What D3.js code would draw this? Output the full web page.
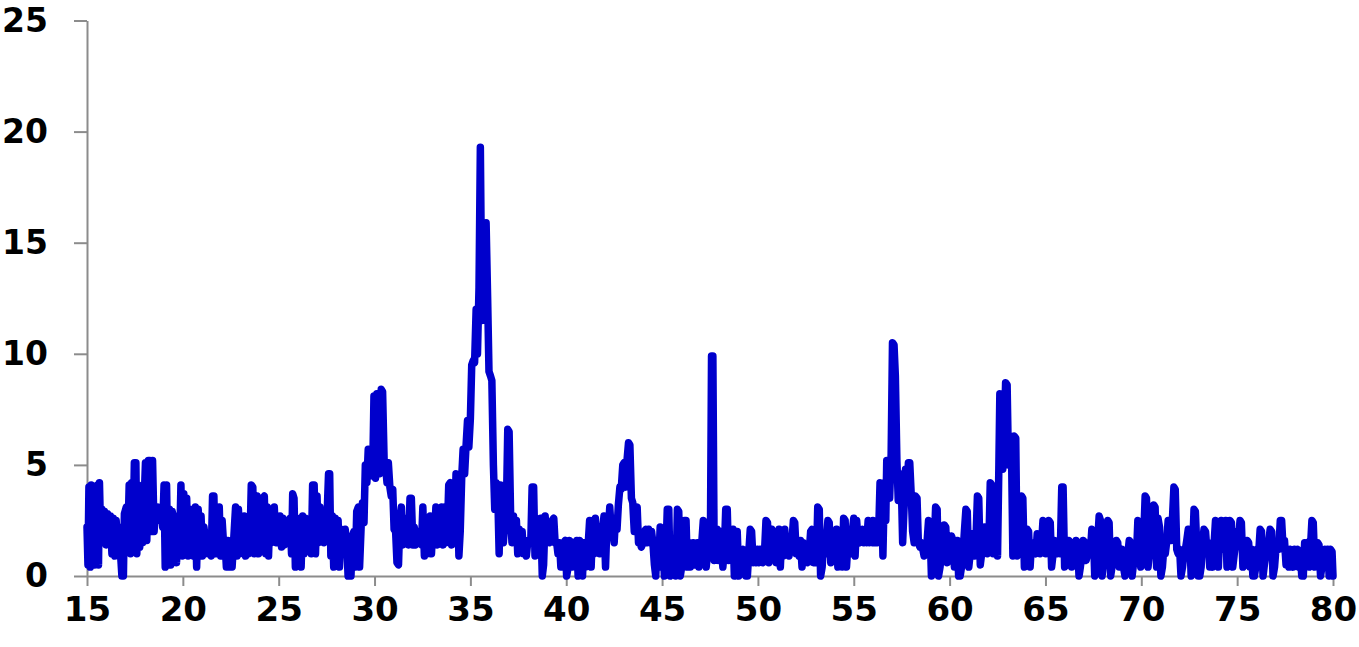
<!DOCTYPE html>
<html><head><meta charset="utf-8">
<script src="https://cdn.jsdelivr.net/npm/d3@7"></script>
<style>body{margin:0;background:#fff}svg{display:block}</style>
</head><body><svg id="c" width="1359" height="647"></svg>
<script>
const xTicks = [15,20,25,30,35,40,45,50,55,60,65,70,75,80];
const yTicks = [0,5,10,15,20,25];

// [2theta, intensity], region by region
const seg15_22 = [[15.00,2.2],[15.05,0.5],[15.10,4.0],[15.17,0.4],[15.22,4.1],[15.28,0.5],[15.33,3.9],[15.40,0.5],[15.47,1.2],[15.55,4.1],[15.60,0.5],[15.65,4.2],[15.72,1.6],[15.78,3.0],[15.85,1.5],[15.92,2.9],[16.00,1.4],[16.07,2.8],[16.15,1.8],[16.22,2.7],[16.30,1.0],[16.37,2.6],[16.45,0.9],[16.52,2.5],[16.60,1.5],[16.68,2.2],[16.75,1.0],[16.82,0.0],[16.90,0.0],[16.95,2.8],[17.05,3.1],[17.12,1.2],[17.20,4.1],[17.27,1.0],[17.33,4.2],[17.40,1.5],[17.47,5.1],[17.55,5.1],[17.60,1.0],[17.67,4.1],[17.75,1.3],[17.82,4.0],[17.90,1.5],[17.97,3.1],[18.05,5.1],[18.12,1.6],[18.20,5.2],[18.28,5.2],[18.35,2.0],[18.42,5.2],[18.50,2.0],[18.57,3.0],[18.65,2.5],[18.72,3.1],[18.80,2.6],[18.87,3.0],[18.95,2.2],[19.02,4.1],[19.08,0.4],[19.15,4.1],[19.22,0.5],[19.30,3.0],[19.37,0.5],[19.45,2.9],[19.52,1.0],[19.60,2.7],[19.67,0.6],[19.75,2.5],[19.82,1.0],[19.90,4.1],[19.97,0.9],[20.05,3.7],[20.12,1.5],[20.20,3.5],[20.27,0.9],[20.35,3.0],[20.42,1.8],[20.50,2.6],[20.57,0.9],[20.65,3.1],[20.72,0.4],[20.80,3.0],[20.88,1.5],[20.95,2.7],[21.02,0.9],[21.10,2.2],[21.18,1.6],[21.25,1.5],[21.32,1.0],[21.40,1.6],[21.48,0.9],[21.55,3.6],[21.62,3.6],[21.68,1.0],[21.75,3.1],[21.82,1.5],[21.90,3.1],[21.97,0.9],[22.05,2.5],[22.12,1.5],[22.20,1.6],[22.27,0.4],[22.35,1.6],[22.42,0.4]];

const seg22_31 = [[22.50,1.5],[22.57,0.4],[22.65,1.6],[22.75,3.1],[22.82,0.9],[22.90,3.0],[22.97,1.0],[23.05,2.0],[23.12,1.4],[23.20,2.7],[23.27,0.9],[23.35,1.5],[23.42,1.0],[23.50,1.5],[23.57,4.1],[23.65,4.0],[23.72,1.0],[23.80,2.5],[23.87,3.6],[23.95,1.0],[24.02,2.0],[24.10,1.5],[24.17,3.5],[24.25,3.6],[24.32,1.0],[24.40,3.1],[24.47,0.9],[24.55,3.0],[24.62,1.5],[24.70,1.6],[24.77,3.1],[24.85,1.5],[24.92,2.5],[25.00,1.5],[25.07,2.7],[25.15,1.3],[25.22,2.6],[25.30,1.4],[25.37,2.5],[25.45,1.6],[25.52,1.5],[25.60,2.6],[25.67,1.0],[25.73,3.7],[25.80,3.5],[25.87,0.4],[25.95,2.6],[26.02,1.5],[26.10,2.5],[26.17,0.4],[26.25,2.7],[26.32,1.0],[26.40,2.6],[26.47,1.5],[26.55,1.6],[26.62,2.5],[26.70,1.0],[26.77,4.1],[26.85,4.1],[26.92,1.0],[27.00,3.6],[27.07,1.5],[27.15,3.1],[27.22,1.6],[27.30,2.5],[27.37,1.5],[27.45,1.6],[27.52,2.6],[27.60,4.6],[27.66,4.6],[27.72,0.9],[27.80,2.7],[27.87,0.4],[27.95,2.6],[28.02,1.5],[28.10,2.5],[28.17,0.4],[28.25,2.1],[28.32,1.4],[28.40,1.5],[28.47,2.1],[28.55,1.5],[28.62,0.0],[28.70,0.4],[28.77,0.0],[28.85,1.8],[28.92,2.0],[29.00,0.4],[29.07,2.9],[29.15,3.1],[29.22,0.4],[29.30,2.2],[29.37,3.3],[29.45,2.4],[29.52,5.0],[29.60,4.2],[29.67,5.7],[29.75,4.8],[29.82,5.6],[29.90,4.5],[29.97,8.1],[30.05,4.4],[30.12,8.2],[30.20,5.0],[30.27,4.6],[30.35,8.4],[30.42,8.3],[30.50,5.2],[30.57,5.0],[30.65,4.2],[30.72,5.1],[30.80,4.0],[30.87,3.6],[30.95,3.9],[31.02,2.1]];

const seg31_41 = [[31.10,2.0],[31.17,0.6],[31.25,0.5],[31.32,2.5],[31.40,3.1],[31.47,1.4],[31.55,2.6],[31.62,1.5],[31.70,2.5],[31.77,1.4],[31.85,3.5],[31.92,3.5],[32.00,1.4],[32.07,2.2],[32.15,1.4],[32.22,1.5],[32.30,2.0],[32.37,1.5],[32.45,1.4],[32.52,3.1],[32.60,0.9],[32.67,2.6],[32.75,1.0],[32.82,1.5],[32.90,2.7],[32.97,1.0],[33.05,2.4],[33.12,1.4],[33.20,3.1],[33.27,1.4],[33.35,3.0],[33.42,1.5],[33.50,3.1],[33.57,1.4],[33.65,3.1],[33.72,1.5],[33.80,2.0],[33.87,4.1],[33.95,4.2],[34.02,1.4],[34.10,3.0],[34.17,1.5],[34.25,4.6],[34.32,4.5],[34.40,0.9],[34.47,2.0],[34.55,4.5],[34.62,5.7],[34.70,4.6],[34.77,5.8],[34.85,7.0],[34.92,5.8],[35.00,7.1],[35.07,9.5],[35.15,9.7],[35.22,9.6],[35.30,12.0],[35.37,10.0],[35.45,13.0],[35.52,19.3],[35.60,11.5],[35.67,12.0],[35.75,14.0],[35.82,15.9],[35.90,12.5],[35.97,9.2],[36.05,9.0],[36.12,8.8],[36.20,5.0],[36.27,3.0],[36.35,4.2],[36.42,4.0],[36.50,1.0],[36.57,4.1],[36.65,3.5],[36.72,1.5],[36.80,2.5],[36.87,2.7],[36.95,6.6],[37.02,6.5],[37.10,2.7],[37.17,1.5],[37.25,2.7],[37.32,1.5],[37.40,2.5],[37.47,1.0],[37.55,2.1],[37.62,1.5],[37.70,2.0],[37.77,1.0],[37.85,1.5],[37.92,0.9],[38.00,1.6],[38.07,1.5],[38.15,1.5],[38.22,4.0],[38.30,4.0],[38.37,0.9],[38.45,1.5],[38.52,1.6],[38.60,2.0],[38.67,2.6],[38.75,0.0],[38.82,0.5],[38.90,2.7],[38.97,1.5],[39.05,1.6],[39.12,1.5],[39.20,1.7],[39.27,2.5],[39.35,2.6],[39.42,1.5],[39.50,1.5],[39.57,1.0],[39.65,1.5],[39.72,0.4],[39.80,0.5],[39.87,1.5],[39.95,1.6],[40.02,0.0],[40.10,0.4],[40.17,1.6],[40.25,1.5],[40.32,0.4],[40.40,1.5],[40.47,0.5],[40.55,1.6],[40.62,0.0],[40.70,1.6],[40.77,1.5],[40.85,0.0],[40.92,1.5]];

const seg41_48 = [[41.00,0.4],[41.07,1.0],[41.15,1.5],[41.22,2.5],[41.30,0.4],[41.37,2.1],[41.45,1.0],[41.52,2.6],[41.60,1.5],[41.67,2.1],[41.75,1.0],[41.82,2.0],[41.90,2.1],[41.97,2.7],[42.05,0.4],[42.12,2.2],[42.20,2.0],[42.27,3.1],[42.35,2.0],[42.42,2.1],[42.50,1.5],[42.57,2.6],[42.65,2.1],[42.72,3.2],[42.80,4.0],[42.87,3.9],[42.95,5.0],[43.02,5.1],[43.10,4.0],[43.17,5.2],[43.25,6.0],[43.32,5.9],[43.40,3.5],[43.47,3.3],[43.55,2.0],[43.62,3.0],[43.70,3.1],[43.77,1.5],[43.85,1.5],[43.92,1.3],[44.00,1.5],[44.07,2.0],[44.15,2.1],[44.22,1.5],[44.30,2.1],[44.37,1.5],[44.45,2.0],[44.52,1.5],[44.60,0.5],[44.67,0.0],[44.75,1.5],[44.82,0.4],[44.90,2.2],[44.97,0.4],[45.05,1.5],[45.12,0.0],[45.20,1.0],[45.27,3.0],[45.35,3.0],[45.42,0.0],[45.50,0.4],[45.57,0.4],[45.65,1.0],[45.72,0.0],[45.80,3.0],[45.87,2.9],[45.95,0.0],[46.02,0.4],[46.10,1.0],[46.17,2.5],[46.25,2.5],[46.32,0.4],[46.40,1.5],[46.47,0.4],[46.55,1.0],[46.62,1.5],[46.70,0.5],[46.77,1.0],[46.85,1.5],[46.92,0.4],[47.00,1.0],[47.07,1.5],[47.15,2.5],[47.22,2.4],[47.30,0.4],[47.37,1.0],[47.45,1.0],[47.52,1.5],[47.58,9.9],[47.65,9.9],[47.72,0.7],[47.80,1.0],[47.87,2.1],[47.95,0.7]];

const seg48_56 = [[48.02,1.5],[48.10,2.0],[48.17,0.4],[48.25,1.2],[48.32,3.0],[48.40,3.0],[48.47,0.7],[48.55,2.1],[48.62,1.5],[48.70,2.1],[48.77,0.0],[48.85,0.4],[48.92,2.0],[49.00,0.0],[49.07,1.2],[49.15,1.0],[49.22,1.2],[49.30,0.4],[49.37,0.0],[49.45,0.0],[49.52,1.0],[49.60,2.1],[49.67,2.0],[49.75,0.6],[49.82,1.2],[49.90,0.6],[49.97,1.2],[50.05,0.6],[50.12,1.2],[50.20,1.0],[50.27,0.6],[50.35,1.2],[50.42,2.5],[50.50,2.4],[50.57,0.6],[50.65,1.5],[50.72,2.1],[50.80,0.9],[50.87,2.0],[50.95,0.6],[51.02,1.5],[51.10,2.1],[51.17,0.4],[51.25,2.0],[51.32,0.9],[51.40,2.1],[51.47,1.0],[51.55,1.6],[51.62,0.9],[51.70,1.5],[51.77,1.5],[51.85,2.5],[51.92,2.4],[52.00,1.0],[52.07,1.5],[52.15,0.9],[52.22,1.6],[52.30,0.4],[52.37,1.5],[52.45,1.0],[52.52,1.2],[52.60,0.6],[52.67,1.0],[52.75,2.0],[52.82,2.1],[52.90,0.6],[52.97,1.0],[53.05,0.6],[53.12,3.1],[53.20,3.0],[53.27,0.0],[53.35,0.4],[53.42,1.5],[53.50,1.0],[53.57,1.6],[53.65,2.5],[53.72,2.4],[53.80,0.6],[53.87,1.5],[53.95,1.0],[54.02,1.5],[54.10,2.1],[54.17,0.4],[54.25,1.5],[54.32,2.0],[54.40,0.4],[54.47,2.6],[54.55,2.5],[54.62,0.4],[54.70,1.5],[54.77,1.5],[54.85,1.0],[54.92,2.0],[55.00,2.6],[55.07,0.9],[55.15,2.5],[55.22,1.6],[55.30,1.5],[55.37,2.0],[55.45,2.1],[55.52,1.5],[55.60,2.0],[55.67,1.5],[55.75,2.5],[55.82,1.5],[55.90,1.6],[55.97,1.5]];

const seg56_64 = [[56.00,2.5],[56.07,1.5],[56.15,2.4],[56.22,1.5],[56.30,2.0],[56.37,4.2],[56.45,4.1],[56.52,0.9],[56.60,4.2],[56.67,2.5],[56.72,5.2],[56.80,5.0],[56.87,3.5],[56.95,5.5],[57.02,10.5],[57.10,10.4],[57.17,9.0],[57.25,5.2],[57.32,3.4],[57.40,4.6],[57.47,4.5],[57.55,1.5],[57.62,3.0],[57.70,4.8],[57.77,3.6],[57.85,5.1],[57.92,5.1],[58.00,3.6],[58.07,2.0],[58.15,1.5],[58.22,3.6],[58.30,3.5],[58.37,1.5],[58.45,1.3],[58.52,1.5],[58.60,1.2],[58.67,0.9],[58.75,1.2],[58.82,1.5],[58.90,2.5],[58.97,2.4],[59.05,0.0],[59.12,0.5],[59.20,1.5],[59.27,3.1],[59.35,3.0],[59.42,0.0],[59.50,0.4],[59.57,1.0],[59.65,1.5],[59.72,2.3],[59.80,2.2],[59.87,0.6],[59.95,1.3],[60.02,1.0],[60.10,1.8],[60.17,1.6],[60.25,0.4],[60.32,1.0],[60.40,1.6],[60.47,0.0],[60.55,0.0],[60.62,0.4],[60.70,1.0],[60.77,2.0],[60.85,3.0],[60.92,2.9],[61.00,0.4],[61.07,1.0],[61.15,1.9],[61.22,1.5],[61.30,0.9],[61.37,1.5],[61.45,3.6],[61.52,3.5],[61.60,0.5],[61.67,1.0],[61.75,1.2],[61.82,2.2],[61.90,2.1],[61.97,1.0],[62.05,1.5],[62.12,4.2],[62.20,4.1],[62.27,1.0],[62.35,1.5],[62.42,2.5],[62.50,0.9],[62.57,5.0],[62.62,8.2],[62.70,8.1],[62.77,4.8],[62.85,6.0],[62.92,8.7],[63.00,8.6],[63.07,5.0],[63.15,6.3],[63.22,6.2],[63.30,0.9],[63.37,6.3],[63.45,6.2],[63.52,0.9],[63.60,2.0],[63.67,2.5],[63.75,3.6],[63.82,3.5],[63.90,0.4],[63.97,1.5]];

const seg64_72 = [[64.05,2.1],[64.12,2.0],[64.20,0.4],[64.27,1.5],[64.35,1.0],[64.42,1.2],[64.50,1.0],[64.57,1.9],[64.65,1.8],[64.72,1.0],[64.80,1.5],[64.87,2.5],[64.95,2.4],[65.02,1.0],[65.10,1.5],[65.17,2.5],[65.25,2.4],[65.32,0.4],[65.40,1.0],[65.47,1.6],[65.55,1.5],[65.62,1.0],[65.70,1.2],[65.77,1.0],[65.85,4.0],[65.92,4.0],[66.00,0.4],[66.07,0.5],[66.15,1.0],[66.22,1.6],[66.30,1.5],[66.37,0.4],[66.45,1.0],[66.52,0.9],[66.60,1.6],[66.67,1.5],[66.75,0.0],[66.82,0.4],[66.90,1.0],[66.97,1.6],[67.05,1.5],[67.12,0.7],[67.20,1.0],[67.27,1.5],[67.35,1.2],[67.42,2.1],[67.50,2.0],[67.57,0.0],[67.65,0.4],[67.72,1.5],[67.80,2.7],[67.87,2.5],[67.95,0.0],[68.02,0.5],[68.10,1.0],[68.17,1.5],[68.25,2.5],[68.32,2.4],[68.40,0.0],[68.47,0.4],[68.55,1.0],[68.62,1.2],[68.70,1.6],[68.77,1.5],[68.85,0.4],[68.92,1.0],[69.00,1.2],[69.07,0.4],[69.15,0.0],[69.22,0.4],[69.30,1.0],[69.37,1.6],[69.45,1.5],[69.52,0.0],[69.60,0.6],[69.67,1.2],[69.75,1.0],[69.82,2.5],[69.90,2.4],[69.97,0.4],[70.05,1.5],[70.12,1.6],[70.20,3.6],[70.27,3.5],[70.35,0.4],[70.42,1.0],[70.50,2.0],[70.57,1.6],[70.65,3.2],[70.72,3.1],[70.80,0.4],[70.87,2.6],[70.95,2.2],[71.02,0.0],[71.10,0.4],[71.17,1.2],[71.25,1.0],[71.32,1.5],[71.40,2.5],[71.47,2.4],[71.55,1.6],[71.62,2.5],[71.70,4.0],[71.77,3.9],[71.85,1.2],[71.92,1.0]];

const seg72_80 = [[72.00,1.2],[72.07,0.0],[72.15,0.4],[72.22,1.0],[72.30,1.2],[72.37,1.6],[72.45,2.1],[72.52,2.0],[72.60,0.0],[72.67,1.0],[72.75,3.0],[72.82,2.9],[72.90,1.2],[72.97,0.0],[73.05,0.0],[73.12,0.4],[73.20,1.6],[73.27,2.1],[73.35,2.0],[73.42,1.2],[73.50,1.5],[73.57,0.4],[73.65,1.0],[73.72,0.4],[73.80,1.5],[73.87,2.5],[73.95,2.4],[74.02,0.4],[74.10,2.2],[74.17,2.5],[74.25,1.2],[74.32,1.6],[74.40,2.5],[74.47,0.4],[74.55,1.2],[74.62,2.5],[74.70,2.4],[74.77,0.4],[74.85,1.0],[74.92,1.5],[75.00,2.0],[75.07,1.6],[75.15,2.5],[75.22,2.4],[75.30,0.4],[75.37,1.2],[75.45,1.0],[75.52,1.6],[75.60,1.5],[75.67,0.4],[75.75,1.2],[75.82,0.0],[75.90,0.0],[75.97,0.4],[76.05,1.2],[76.12,1.0],[76.20,2.1],[76.27,2.0],[76.35,0.0],[76.42,0.5],[76.50,1.0],[76.57,1.2],[76.65,1.5],[76.72,2.1],[76.80,2.0],[76.87,0.0],[76.95,0.4],[77.02,1.2],[77.10,1.5],[77.17,1.2],[77.25,2.5],[77.32,2.5],[77.40,1.2],[77.47,1.6],[77.55,0.5],[77.62,1.2],[77.70,0.4],[77.77,1.2],[77.85,1.0],[77.92,0.4],[78.00,1.2],[78.07,1.0],[78.15,1.2],[78.22,0.4],[78.30,1.0],[78.37,0.0],[78.45,0.0],[78.52,1.5],[78.60,1.2],[78.67,1.5],[78.75,0.4],[78.82,1.2],[78.90,2.5],[78.97,2.4],[79.05,0.4],[79.12,1.0],[79.20,1.5],[79.27,1.4],[79.35,0.0],[79.42,0.4],[79.50,1.0],[79.57,1.2],[79.65,0.4],[79.72,1.2],[79.80,0.0],[79.87,1.2],[79.95,1.1],[80.00,0.0]];

const pattern = [].concat(seg15_22, seg22_31, seg31_41, seg41_48, seg48_56, seg56_64, seg64_72, seg72_80);

const svg = d3.select('#c');
const x = d3.scaleLinear().domain([15, 80]).range([87, 1333]);
const y = d3.scaleLinear().domain([0, 25]).range([576, 20.5]);
const axisColor = '#8c8c8c';
const font = '"DejaVu Sans", Verdana, sans-serif';

const gy = svg.append('g').attr('transform', 'translate(87,0)')
  .call(d3.axisLeft(y).tickValues(yTicks).tickSize(13).tickSizeOuter(0).tickPadding(26));
const gx = svg.append('g').attr('transform', 'translate(0,576)')
  .call(d3.axisBottom(x).tickValues(xTicks).tickSize(10).tickSizeOuter(0).tickPadding(11));

gy.selectAll('.tick text').style('font-size', '33px');
gx.selectAll('.tick text').style('font-size', '34px');
[gx, gy].forEach(g => {
  g.select('.domain').attr('stroke', axisColor).attr('stroke-width', 2);
  g.selectAll('.tick line').attr('stroke', axisColor).attr('stroke-width', 2);
  g.selectAll('.tick text').attr('fill', '#000').style('font-family', font)
    .style('font-weight', 'bold');
});

svg.append('path').datum(pattern)
  .attr('fill', 'none').attr('stroke', '#0000CC').attr('stroke-width', 7.5)
  .attr('stroke-linejoin', 'round').attr('stroke-linecap', 'round')
  .attr('d', d3.line().x(d => x(d[0])).y(d => y(d[1])));
</script></body></html>
